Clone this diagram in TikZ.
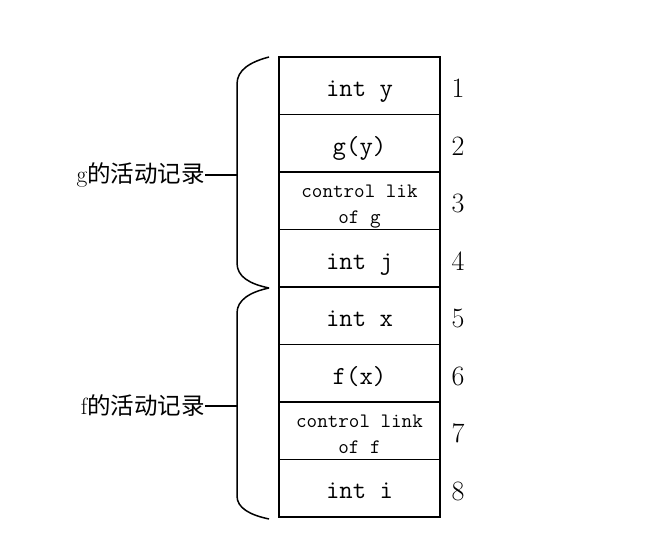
\documentclass[tikz,border=0pt]{standalone}
\usepackage{fontspec}
\newfontfamily\cjk{Noto Sans CJK SC}
\begin{document}
\begin{tikzpicture}[x=1pt,y=-1pt,
  cell/.style={draw, line width=1.5pt, minimum width=161pt, minimum height=57.5pt, inner sep=0pt},
  big/.style={font=\fontsize{26}{28}\selectfont\ttfamily, anchor=base, inner sep=0pt},
  small/.style={font=\fontsize{20.5}{25}\selectfont\ttfamily, anchor=base, inner sep=0pt},
  num/.style={font=\fontsize{28}{30}\selectfont, anchor=base, inner sep=0pt},
  lab/.style={font=\fontsize{23.5}{26}\selectfont, anchor=east, inner sep=0pt},
  br/.style={line width=1.5pt}]
\useasboundingbox (0,0) rectangle (667,535);
% cells
\node[cell] (c1) at (359.5,85.75) {};
\node[cell] (c2) at (359.5,143.25) {};
\node[cell] (c3) at (359.5,200.75) {};
\node[cell] (c4) at (359.5,258.25) {};
\node[cell] (c5) at (359.5,315.75) {};
\node[cell] (c6) at (359.5,373.25) {};
\node[cell] (c7) at (359.5,430.75) {};
\node[cell] (c8) at (359.5,488.25) {};
% cell texts
\node[big] (t1) at (359.5,96.75) {int y};
\node[big] (t2) at (359.5,154.75) {g(y)};
\node[small] (t3a) at (359.5,197.75) {control lik};
\node[small] (t3b) at (359.5,223.75) {of g};
\node[big] (t4) at (359.5,269.25) {int j};
\node[big] (t5) at (359.5,326.75) {int x};
\node[big] (t6) at (359.5,384.75) {f(x)};
\node[small] (t7a) at (359.5,427.75) {control link};
\node[small] (t7b) at (359.5,453.75) {of f};
\node[big] (t8) at (359.5,498.25) {int i};
% numbers
\node[num] (n1) at (458,97.75) {1};
\node[num] (n2) at (458,155.25) {2};
\node[num] (n3) at (458,212.75) {3};
\node[num] (n4) at (458,270.25) {4};
\node[num] (n5) at (458,327.75) {5};
\node[num] (n6) at (458,385.25) {6};
\node[num] (n7) at (458,442.75) {7};
\node[num] (n8) at (458,500.25) {8};
% braces
\coordinate (gtop) at (269,57);
\coordinate (mid) at (269,288);
\coordinate (fbot) at (269,519);
\draw[br] (gtop) .. controls (250,62) and (237,70) .. (237,84) -- (237,263) .. controls (237,277) and (250,284) .. (mid);
\draw[br] (mid) .. controls (250,292) and (237,300) .. (237,313) -- (237,496) .. controls (237,508) and (250,515) .. (fbot);
% labels
\node[lab] (gl) at (205,175) {g{\cjk 的活动记录}};
\node[lab] (fl) at (205,406) {f{\cjk 的活动记录}};
\coordinate (gm) at (237,175);
\coordinate (fm) at (237,406);
\draw[br] (gl.east) -- (gm);
\draw[br] (fl.east) -- (fm);
\end{tikzpicture}
\end{document}
